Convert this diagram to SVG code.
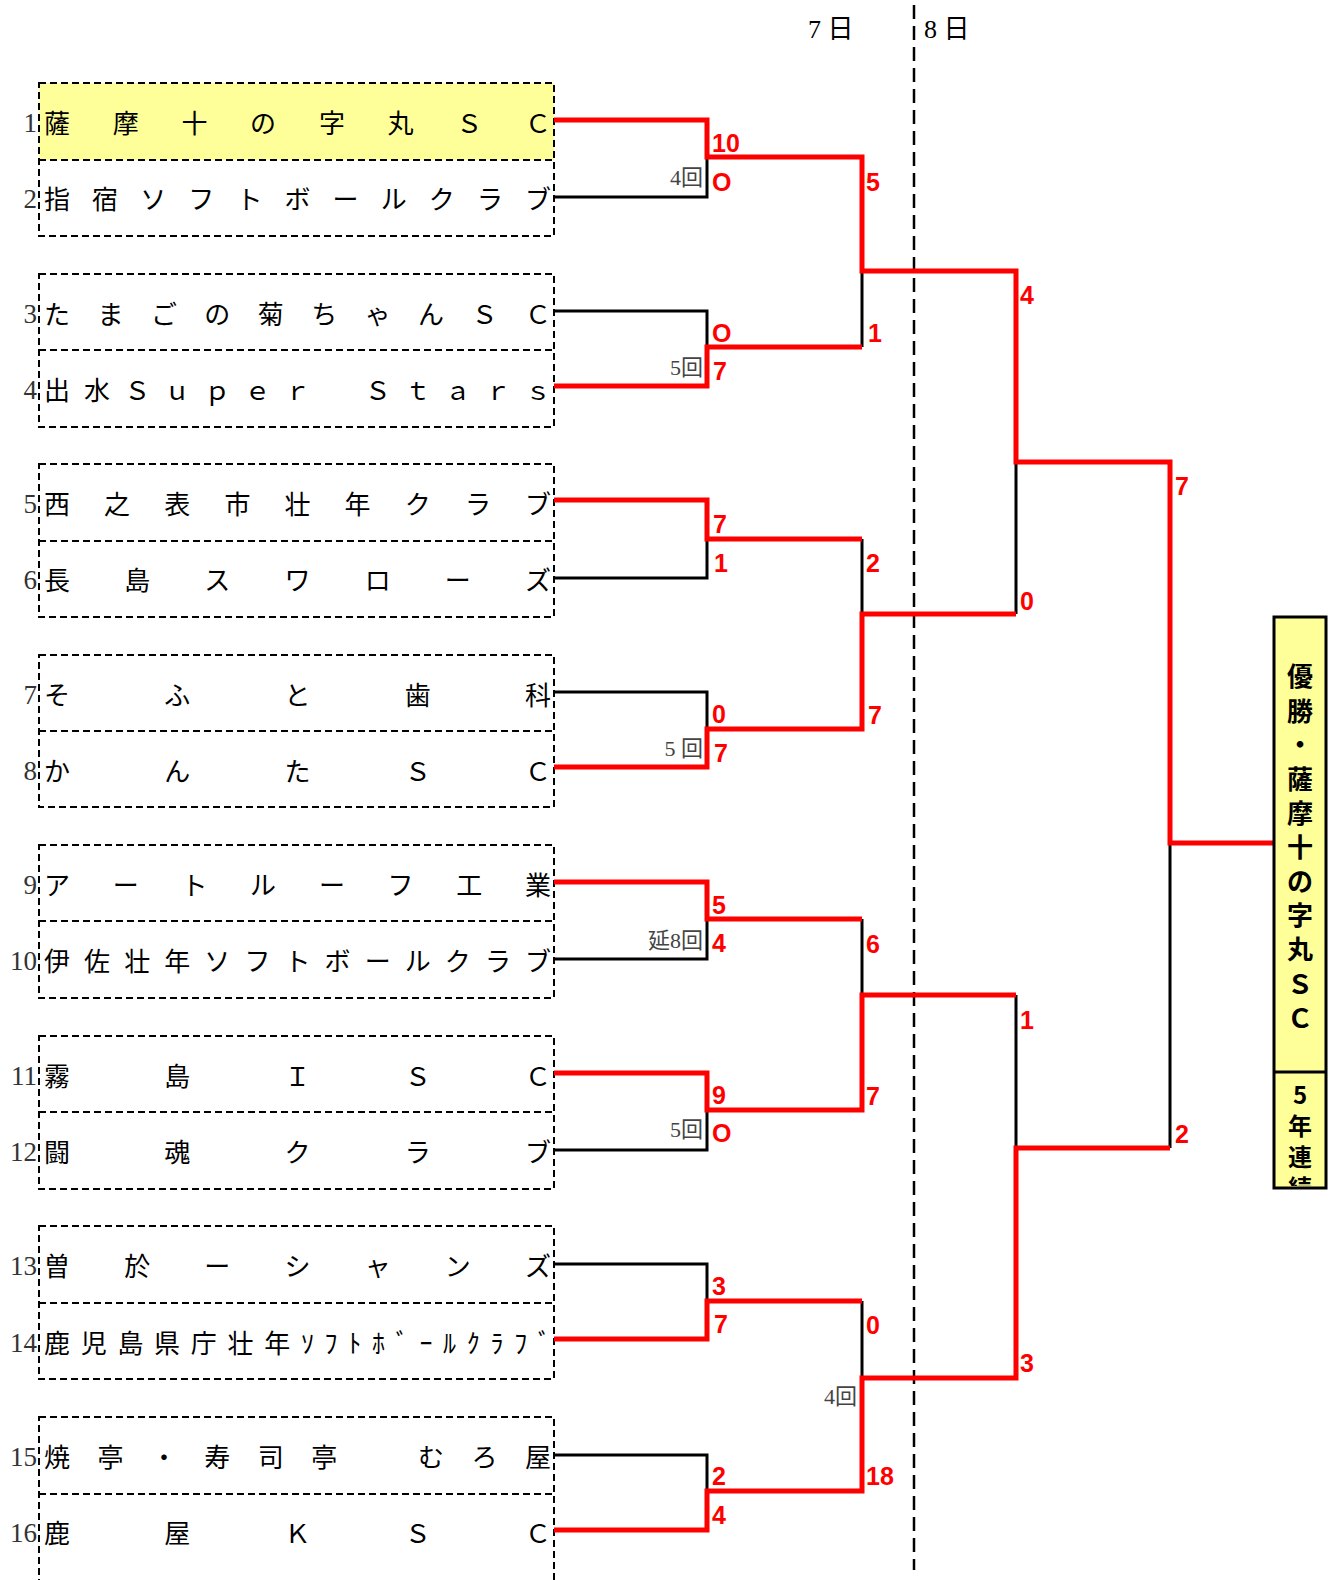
<svg xmlns="http://www.w3.org/2000/svg" width="1341" height="1580" viewBox="0 0 1341 1580">
<style>
.box{fill:none;stroke:#000;stroke-width:2;stroke-dasharray:7,4}
.num{font-family:"Liberation Serif","Noto Sans CJK JP",serif;font-size:27px;fill:#333;text-anchor:end}
.name{font-family:"Noto Sans CJK JP",sans-serif;font-size:26px;fill:#000}
.sc{font-family:"Liberation Sans",Arial,sans-serif;font-weight:bold;font-size:25px;fill:#f00}
.inn{font-family:"Liberation Serif","Noto Sans CJK JP",serif;font-size:22px;fill:#444;text-anchor:end}
.hd{font-family:"Liberation Serif","Noto Sans CJK JP",serif;font-size:26px;fill:#000}
.bk{fill:none;stroke:#000;stroke-width:3}
.rd{fill:none;stroke:#f00;stroke-width:5}
.win{font-family:"Noto Sans CJK JP",sans-serif;font-size:26px;font-weight:bold;fill:#000;text-anchor:middle}
.win2{font-family:"Noto Sans CJK JP",sans-serif;font-size:24px;font-weight:bold;fill:#000;text-anchor:middle}
</style>
<defs>
<clipPath id="wclip"><rect x="1274" y="1074" width="52" height="112"/></clipPath>
</defs>

<g id="header">
<text class="hd" x="808" y="38">7 日</text>
<text class="hd" x="924" y="38">8 日</text>
<line x1="914" y1="5" x2="914" y2="1570" stroke="#000" stroke-width="2.5" stroke-dasharray="14,7"/>
</g>

<g id="pair1">
<rect x="39" y="83" width="515" height="77" fill="#FFFF99"/>
<rect class="box" x="39" y="83" width="515" height="153"/>
<line class="box" x1="39" y1="160" x2="554" y2="160"/>
</g>
<g id="pair2">
<rect class="box" x="39" y="274" width="515" height="153"/>
<line class="box" x1="39" y1="350" x2="554" y2="350"/>
</g>
<g id="pair3">
<rect class="box" x="39" y="464" width="515" height="153"/>
<line class="box" x1="39" y1="541" x2="554" y2="541"/>
</g>
<g id="pair4">
<rect class="box" x="39" y="655" width="515" height="152"/>
<line class="box" x1="39" y1="731" x2="554" y2="731"/>
</g>
<g id="pair5">
<rect class="box" x="39" y="845" width="515" height="153"/>
<line class="box" x1="39" y1="921" x2="554" y2="921"/>
</g>
<g id="pair6">
<rect class="box" x="39" y="1036" width="515" height="153"/>
<line class="box" x1="39" y1="1112" x2="554" y2="1112"/>
</g>
<g id="pair7">
<rect class="box" x="39" y="1226" width="515" height="153"/>
<line class="box" x1="39" y1="1303" x2="554" y2="1303"/>
</g>
<g id="pair8">
<rect class="box" x="39" y="1417" width="515" height="180"/>
<line class="box" x1="39" y1="1494" x2="554" y2="1494"/>
</g>

<g id="team1"><text class="num" x="37" y="132">1</text><text class="name" x="44 112.7 181.4 250.1 318.9 387.6 456.3 525" y="133">薩摩十の字丸ＳＣ</text></g>
<g id="team2"><text class="num" x="37" y="208">2</text><text class="name" x="44 92.1 140.2 188.3 236.4 284.5 332.6 380.7 428.8 476.9 525" y="209">指宿ソフトボールクラブ</text></g>
<g id="team3"><text class="num" x="37" y="323">3</text><text class="name" x="44 97.4 150.9 204.3 257.8 311.2 364.7 418.1 471.6 525" y="324">たまごの菊ちゃんＳＣ</text></g>
<g id="team4"><text class="num" x="37" y="399">4</text><text class="name" x="44 84.1 124.2 164.3 204.3 244.4 284.5 324.6 364.7 404.8 444.8 484.9 525" y="400">出水Ｓｕｐｅｒ　Ｓｔａｒｓ</text></g>
<g id="team5"><text class="num" x="37" y="513">5</text><text class="name" x="44 104.1 164.3 224.4 284.5 344.6 404.8 464.9 525" y="514">西之表市壮年クラブ</text></g>
<g id="team6"><text class="num" x="37" y="589">6</text><text class="name" x="44 124.2 204.3 284.5 364.7 444.8 525" y="590">長島スワローズ</text></g>
<g id="team7"><text class="num" x="37" y="704">7</text><text class="name" x="44 164.3 284.5 404.8 525" y="705">そふと歯科</text></g>
<g id="team8"><text class="num" x="37" y="780">8</text><text class="name" x="44 164.3 284.5 404.8 525" y="781">かんたＳＣ</text></g>
<g id="team9"><text class="num" x="37" y="894">9</text><text class="name" x="44 112.7 181.4 250.1 318.9 387.6 456.3 525" y="895">アートルーフ工業</text></g>
<g id="team10"><text class="num" x="37" y="970">10</text><text class="name" x="44 84.1 124.2 164.3 204.3 244.4 284.5 324.6 364.7 404.8 444.8 484.9 525" y="971">伊佐壮年ソフトボールクラブ</text></g>
<g id="team11"><text class="num" x="37" y="1085">11</text><text class="name" x="44 164.3 284.5 404.8 525" y="1086">霧島ＩＳＣ</text></g>
<g id="team12"><text class="num" x="37" y="1161">12</text><text class="name" x="44 164.3 284.5 404.8 525" y="1162">闘魂クラブ</text></g>
<g id="team13"><text class="num" x="37" y="1275">13</text><text class="name" x="44 124.2 204.3 284.5 364.7 444.8 525" y="1276">曽於ーシャンズ</text></g>
<g id="team14"><text class="num" x="37" y="1352">14</text><text class="name" x="44 80.7 117.4 154.1 190.8 227.5 264.2 300.9 324.6 348.3 372 395.7 419.4 443.1 466.8 490.5 514.2 537.9" y="1353">鹿児島県庁壮年ｿﾌﾄﾎﾞｰﾙｸﾗﾌﾞ</text></g>
<g id="team15"><text class="num" x="37" y="1466">15</text><text class="name" x="44 97.4 150.9 204.3 257.8 311.2 364.7 418.1 471.6 525" y="1467">焼亭・寿司亭　むろ屋</text></g>
<g id="team16"><text class="num" x="37" y="1542">16</text><text class="name" x="44 164.3 284.5 404.8 525" y="1543">鹿屋ＫＳＣ</text></g>

<g id="connectors">
<path class="bk" d="M554,197 H707 V157"/>
<path class="bk" d="M554,311 H707 V347"/>
<path class="bk" d="M862,271 V347"/>
<path class="bk" d="M554,578 H707 V539"/>
<path class="bk" d="M554,692 H707 V729"/>
<path class="bk" d="M862,539 V614"/>
<path class="bk" d="M1016,462 V614"/>
<path class="bk" d="M1170,843 V1148"/>
<path class="bk" d="M554,959 H707 V919"/>
<path class="bk" d="M554,1150 H707 V1110"/>
<path class="bk" d="M862,919 V995"/>
<path class="bk" d="M554,1264 H707 V1301"/>
<path class="bk" d="M554,1455 H707 V1491"/>
<path class="bk" d="M862,1301 V1378"/>
<path class="bk" d="M1016,995 V1148"/>
<path class="rd" d="M554,120 H707 V157 H862 V271 H1016 V462 H1170 V843 H1274"/>
<path class="rd" d="M554,386 H707 V347 H862"/>
<path class="rd" d="M554,500 H707 V539 H862"/>
<path class="rd" d="M554,767 H707 V729 H862 V614 H1016"/>
<path class="rd" d="M554,882 H707 V919 H862"/>
<path class="rd" d="M554,1073 H707 V1110 H862 V995 H1016"/>
<path class="rd" d="M554,1339 H707 V1301 H862"/>
<path class="rd" d="M554,1530 H707 V1491 H862 V1378 H1016 V1148 H1170"/>
</g>

<g id="scores">
<text class="sc" x="712" y="152">10</text>
<text class="sc" x="712" y="191">O</text>
<text class="sc" x="866" y="191">5</text>
<text class="sc" x="712" y="342">O</text>
<text class="sc" x="868" y="342">1</text>
<text class="sc" x="713" y="380">7</text>
<text class="sc" x="1020" y="304">4</text>
<text class="sc" x="713" y="533">7</text>
<text class="sc" x="714" y="572">1</text>
<text class="sc" x="866" y="572">2</text>
<text class="sc" x="712" y="723">0</text>
<text class="sc" x="714" y="762">7</text>
<text class="sc" x="868" y="724">7</text>
<text class="sc" x="1020" y="610">0</text>
<text class="sc" x="1175" y="495">7</text>
<text class="sc" x="712" y="914">5</text>
<text class="sc" x="712" y="952">4</text>
<text class="sc" x="866" y="953">6</text>
<text class="sc" x="712" y="1104">9</text>
<text class="sc" x="712" y="1142">O</text>
<text class="sc" x="866" y="1105">7</text>
<text class="sc" x="1020" y="1029">1</text>
<text class="sc" x="1175" y="1143">2</text>
<text class="sc" x="712" y="1295">3</text>
<text class="sc" x="714" y="1333">7</text>
<text class="sc" x="866" y="1334">0</text>
<text class="sc" x="1020" y="1372">3</text>
<text class="sc" x="712" y="1485">2</text>
<text class="sc" x="712" y="1524">4</text>
<text class="sc" x="866" y="1485">18</text>
</g>

<g id="innings">
<text class="inn" x="703" y="185">4回</text>
<text class="inn" x="703" y="375">5回</text>
<text class="inn" x="703" y="756">5 回</text>
<text class="inn" x="703" y="948">延8回</text>
<text class="inn" x="703" y="1137">5回</text>
<text class="inn" x="857" y="1404">4回</text>
</g>

<g id="winner">
<rect x="1274" y="617" width="52" height="571" fill="#FFFF99" stroke="#000" stroke-width="3"/>
<line x1="1274" y1="1072" x2="1326" y2="1072" stroke="#000" stroke-width="3"/>
<text class="win" x="1300 1300 1300 1300 1300 1300 1300 1300 1300 1300 1300" y="686 721 754 789 823 857 891 925 959 994 1028">優勝・薩摩十の字丸ＳＣ</text>
<g clip-path="url(#wclip)">
<text class="win2" x="1300 1300 1300 1300" y="1104 1135 1166 1197">5年連続</text>
</g>
</g>
</svg>
